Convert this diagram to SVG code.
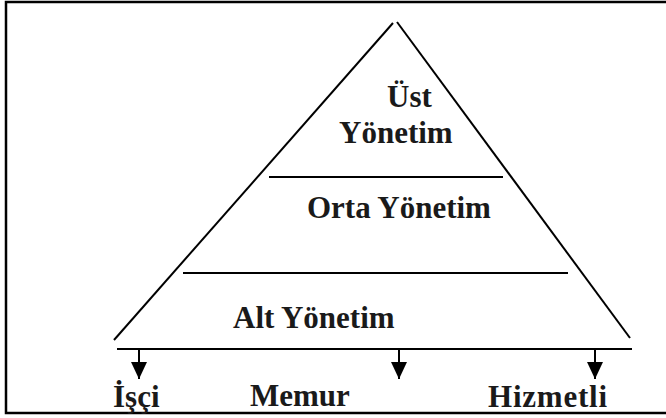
<svg xmlns="http://www.w3.org/2000/svg" width="666" height="418" viewBox="0 0 666 418">
<defs>
<style>
.ln{stroke:#000;stroke-width:2;fill:none}
.tx{font-family:"Liberation Serif","Times New Roman",serif;font-weight:bold;font-size:31px;fill:#1a1a1a}
</style>
<marker id="ah" markerWidth="17" markerHeight="16" refX="17" refY="8" orient="auto" markerUnits="userSpaceOnUse" viewBox="0 0 17 16">
<path d="M0,0 L17,8 L0,16 Z" fill="#000"/>
</marker>
</defs>
<rect x="6" y="2" width="664" height="411" fill="#fff" stroke="#000" stroke-width="2.5"/>
<g id="pyramid">
<line class="ln" x1="114" y1="340" x2="393" y2="23"/>
<line class="ln" x1="397" y1="22" x2="630" y2="338"/>
<line class="ln" x1="269" y1="177" x2="503" y2="177"/>
<line class="ln" x1="183" y1="273" x2="568" y2="273"/>
</g>
<g id="ust"><text class="tx" x="387" y="107">Üst</text><text class="tx" x="339" y="143">Yönetim</text></g>
<g id="orta"><text class="tx" x="307" y="218">Orta Yönetim</text></g>
<g id="alt"><text class="tx" x="233" y="328">Alt Yönetim</text></g>
<g id="isci"><text class="tx" x="113" y="407">İşçi</text></g>
<g id="memur"><text class="tx" x="250" y="406">Memur</text></g>
<g id="hizmetli"><text class="tx" x="488" y="407" textLength="119">Hizmetli</text></g>
<g id="connectors">
<line class="ln" x1="117" y1="349" x2="632" y2="349"/>
<line class="ln" x1="139" y1="349" x2="139" y2="379" marker-end="url(#ah)"/>
<line class="ln" x1="399" y1="349" x2="399" y2="379" marker-end="url(#ah)"/>
<line class="ln" x1="595" y1="349" x2="595" y2="379" marker-end="url(#ah)"/>
</g>
</svg>
